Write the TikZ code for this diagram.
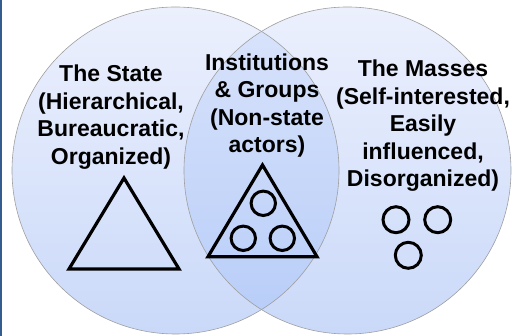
\documentclass[tikz,border=0pt]{standalone}
\usepackage{fontspec}
\setmainfont{Liberation Sans}

\definecolor{setTop}{RGB}{236,240,253}
\definecolor{setBot}{RGB}{202,217,249}
\definecolor{lensTop}{RGB}{218,228,251}
\definecolor{lensBot}{RGB}{182,204,248}
\definecolor{edgeblue}{RGB}{52,92,142}

\newcommand{\vennr}{163.5}

\begin{document}
\begin{tikzpicture}[
    x=1pt,
    y=-1pt,
    setfill/.style={
        top color=setTop,
        bottom color=setBot
    },
    lensfill/.style={
        top color=lensTop,
        bottom color=lensBot
    },
    rim/.style={
        draw=gray!75,
        line width=0.6pt
    },
    vtext/.style={
        align=center,
        inner sep=0pt,
        font=\bfseries\fontsize{23}{27.5}\selectfont
    },
    outline/.style={
        line width=3.2pt
    },
    member/.style={
        line width=3pt
    }
]

    % Frame
    \useasboundingbox (0,0) rectangle (512,336);
    \fill[edgeblue] (0,0) rectangle (2,336);

    % The two sets
    \coordinate (state c) at (175.5,170.5);
    \coordinate (masses c) at (347.5,170.5);
    \shade[setfill] (state c) circle (\vennr);
    \shade[setfill] (masses c) circle (\vennr);

    % Overlap
    \begin{scope}
        \clip (state c) circle (\vennr);
        \shade[lensfill] (masses c) circle (\vennr);
    \end{scope}
    \draw[rim] (state c) circle (\vennr);
    \draw[rim] (masses c) circle (\vennr);

    % Labels
    \node[vtext] (state) at (111,117) {The State\\(Hierarchical,\\Bureaucratic,\\Organized)};
    \node[vtext] (groups) at (267,105.5) {Institutions\\\& Groups\\(Non-state\\actors)};
    \node[vtext] (masses) at (423,126) {The Masses\\(Self-interested,\\Easily\\influenced,\\Disorganized)};

    % State: plain triangle
    \draw[outline] (124,178) -- (69,269) -- (179,269) -- cycle;

    % Groups: triangle holding three members
    \draw[outline] (262.5,165) -- (208,256.7) -- (317,256.7) -- cycle;
    \draw[member] (263.3,203.3) circle (12.2);
    \draw[member] (243.3,238.3) circle (12.2);
    \draw[member] (282.3,238.3) circle (12.2);

    % Masses: loose members
    \draw[member] (396,219.7) circle (13);
    \draw[member] (437.7,219.7) circle (13);
    \draw[member] (408.3,255.3) circle (13);

\end{tikzpicture}
\end{document}
